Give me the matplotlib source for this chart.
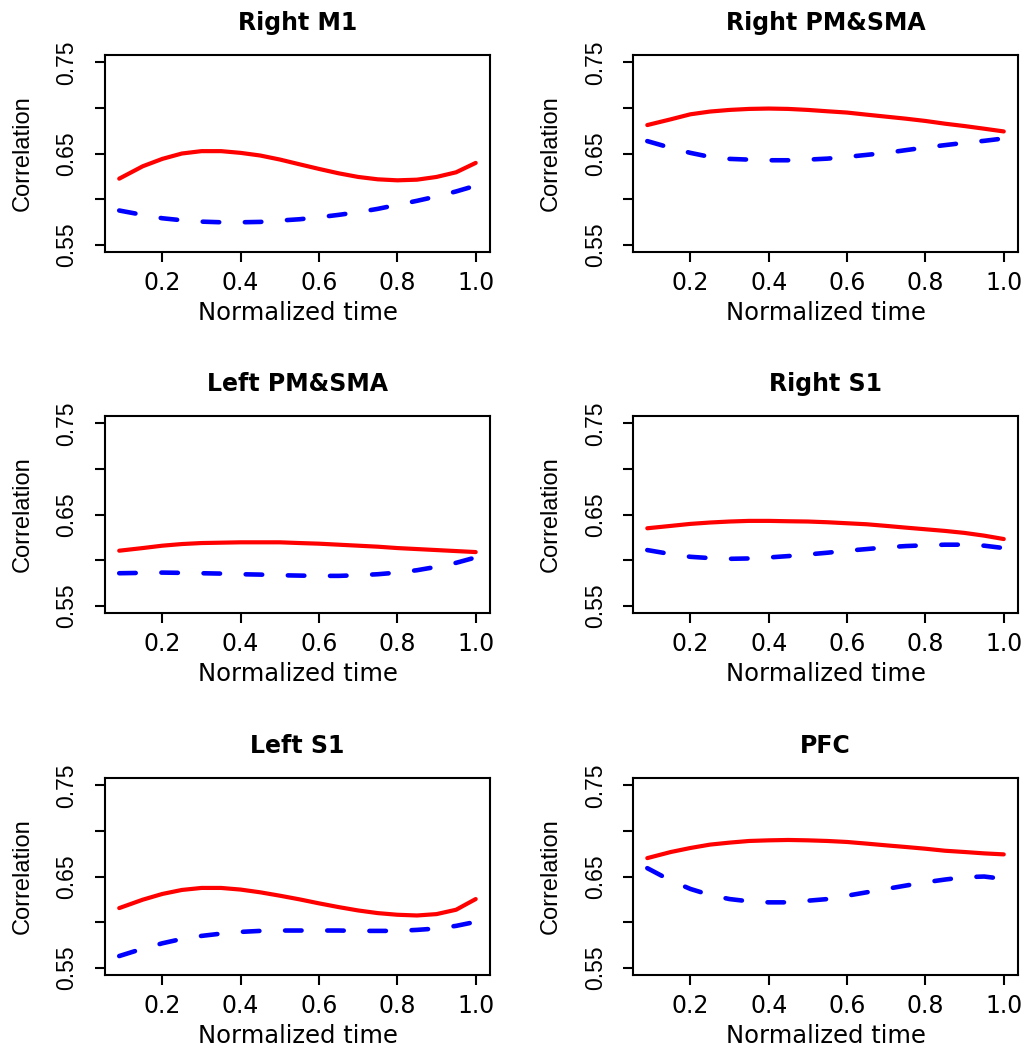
import matplotlib
matplotlib.use('Agg')
import matplotlib.pyplot as plt

#
### data (correlation vs normalized time)
#
time = [0.09, 0.15, 0.2, 0.25, 0.3, 0.35, 0.4, 0.45, 0.5, 0.55,
        0.6, 0.65, 0.7, 0.75, 0.8, 0.85, 0.9, 0.95, 1.0]

titles = ['Right M1', 'Right PM&SMA', 'Left PM&SMA', 'Right S1', 'Left S1', 'PFC']

right_m1_solid = [0.6224, 0.6360, 0.6441, 0.6500, 0.6526, 0.6526, 0.6507, 0.6478, 0.6434, 0.6382,
                  0.6331, 0.6283, 0.6243, 0.6217, 0.6206, 0.6213, 0.6243, 0.6294, 0.6397]
right_m1_dash = [0.5875, 0.5827, 0.5790, 0.5768, 0.5753, 0.5746, 0.5746, 0.5750, 0.5765, 0.5779,
                 0.5801, 0.5827, 0.5857, 0.5893, 0.5937, 0.5981, 0.6029, 0.6084, 0.6147]

right_pm_solid = [0.6812, 0.6875, 0.6930, 0.6960, 0.6978, 0.6989, 0.6993, 0.6989, 0.6978, 0.6963,
                  0.6949, 0.6926, 0.6904, 0.6882, 0.6857, 0.6827, 0.6801, 0.6772, 0.6742]
right_pm_dash = [0.6636, 0.6562, 0.6507, 0.6463, 0.6441, 0.6433, 0.6426, 0.6426, 0.6433, 0.6444,
                 0.6463, 0.6485, 0.6507, 0.6537, 0.6566, 0.6592, 0.6617, 0.6639, 0.6665]

left_pm_solid = [0.6103, 0.6132, 0.6158, 0.6176, 0.6187, 0.6191, 0.6195, 0.6195, 0.6195, 0.6187,
                 0.6180, 0.6169, 0.6158, 0.6147, 0.6132, 0.6121, 0.6110, 0.6099, 0.6088]
left_pm_dash = [0.5856, 0.5860, 0.5863, 0.5860, 0.5856, 0.5852, 0.5845, 0.5841, 0.5834, 0.5830,
                0.5827, 0.5827, 0.5834, 0.5845, 0.5863, 0.5889, 0.5926, 0.5970, 0.6029]

right_s1_solid = [0.6349, 0.6375, 0.6397, 0.6412, 0.6423, 0.6430, 0.6430, 0.6426, 0.6423, 0.6415,
                  0.6404, 0.6393, 0.6375, 0.6356, 0.6338, 0.6320, 0.6298, 0.6268, 0.6231]
right_s1_dash = [0.6110, 0.6066, 0.6036, 0.6022, 0.6014, 0.6018, 0.6029, 0.6044, 0.6062, 0.6081,
                 0.6103, 0.6121, 0.6140, 0.6154, 0.6162, 0.6169, 0.6169, 0.6158, 0.6132]

left_s1_solid = [0.6154, 0.6246, 0.6309, 0.6353, 0.6375, 0.6375, 0.6357, 0.6327, 0.6290, 0.6250,
                 0.6206, 0.6165, 0.6128, 0.6099, 0.6081, 0.6073, 0.6088, 0.6136, 0.6253]
left_s1_dash = [0.5628, 0.5709, 0.5768, 0.5816, 0.5849, 0.5874, 0.5893, 0.5904, 0.5908, 0.5908,
                0.5908, 0.5908, 0.5904, 0.5904, 0.5904, 0.5915, 0.5930, 0.5959, 0.6003]

pfc_solid = [0.6702, 0.6769, 0.6813, 0.6850, 0.6872, 0.6890, 0.6897, 0.6901, 0.6897, 0.6890,
             0.6879, 0.6861, 0.6842, 0.6824, 0.6805, 0.6783, 0.6769, 0.6754, 0.6743]
pfc_dash = [0.6592, 0.6456, 0.6364, 0.6298, 0.6253, 0.6228, 0.6217, 0.6217, 0.6235, 0.6253,
            0.6290, 0.6327, 0.6364, 0.6401, 0.6437, 0.6467, 0.6493, 0.6500, 0.6474]

solid = [right_m1_solid, right_pm_solid, left_pm_solid, right_s1_solid, left_s1_solid, pfc_solid]
dashed = [right_m1_dash, right_pm_dash, left_pm_dash, right_s1_dash, left_s1_dash, pfc_dash]

xticks = [0.2, 0.4, 0.6, 0.8, 1.0]
yticks = [0.55, 0.60, 0.65, 0.70, 0.75]
ylabels = ['0.55', '', '0.65', '', '0.75']

#
### plotting, 3 rows x 2 columns like the R layout
#
fig = plt.figure(figsize=(10.33, 10.5), dpi=100)

lefts = [0.1016, 0.6128]
bottoms = [0.760, 0.4162, 0.0714]
w, h = 0.3727, 0.1876

for i in range(6):
    r, c = i // 2, i % 2
    ax = fig.add_axes([lefts[c], bottoms[r], w, h])

    ax.plot(time, solid[i], color='#ff0000', lw=3, solid_capstyle='round',
            solid_joinstyle='round')
    ax.plot(time, dashed[i], color='#0000ff', lw=3.3, dashes=(3.6, 5.6),
            dash_capstyle='round', dash_joinstyle='round')

    # R pads the axis range by 4%
    ax.set_xlim(0.09 - 0.04 * 0.91, 1.0 + 0.04 * 0.91)
    ax.set_ylim(0.55 - 0.008, 0.75 + 0.008)

    ax.set_xticks(xticks)
    ax.set_xticklabels(['%.1f' % v for v in xticks], family='DejaVu Sans', fontsize=17)
    ax.set_yticks(yticks)
    ax.set_yticklabels(ylabels, family='Liberation Sans', fontsize=16.5,
                       rotation=90, va='center')
    ax.tick_params(axis='both', direction='out', length=7, width=1.5, color='black')
    ax.tick_params(axis='x', pad=7)
    ax.tick_params(axis='y', pad=12)

    for s in ax.spines.values():
        s.set_linewidth(1.5)

    ax.set_xlabel('Normalized time', family='DejaVu Sans', fontsize=17.5)
    ax.xaxis.set_label_coords(0.5, -0.25)
    ax.set_ylabel('Correlation', family='Liberation Sans', fontsize=17)
    ax.yaxis.set_label_coords(-0.185, 0.5)

    ax.set_title(titles[i], family='DejaVu Sans', fontweight='bold', fontsize=17, pad=18)

fig.savefig('out.png', dpi=100)
